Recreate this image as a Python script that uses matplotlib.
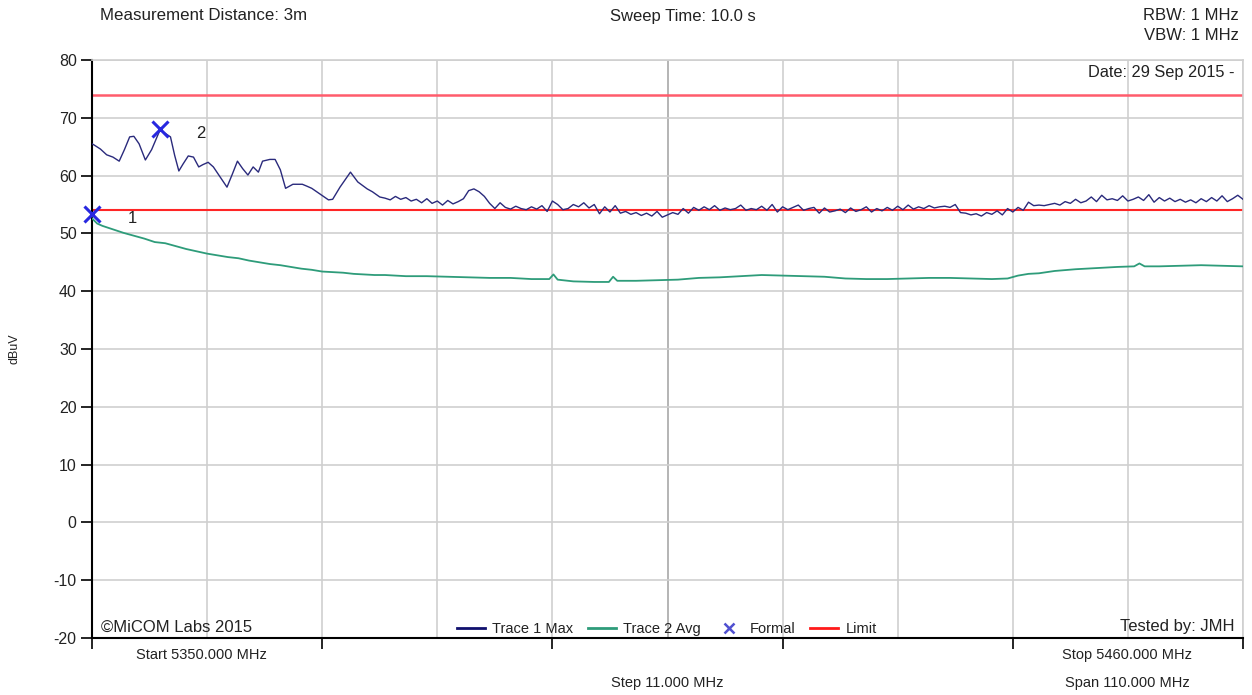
import numpy as np
import matplotlib
matplotlib.use("Agg")
import matplotlib.pyplot as plt
from matplotlib.lines import Line2D

plt.rcParams['font.family'] = ['Liberation Sans', 'DejaVu Sans']

# ---------------- data ----------------
f_start, f_stop, f_step = 5350.0, 5460.0, 11.0
y_ticks = [-20, -10, 0, 10, 20, 30, 40, 50, 60, 70, 80]

# Trace 1 (max) - first part, read at irregular frequencies
trace1_freq_a = [5350.0, 5350.2, 5350.8, 5351.4, 5352.0, 5352.6, 5353.1, 5353.6, 5354.0, 5354.5,
                 5355.1, 5355.7, 5356.5, 5357.5, 5357.9, 5358.3, 5358.7, 5359.2, 5359.7, 5360.0,
                 5360.2, 5360.6, 5361.1, 5361.6, 5362.2, 5362.9, 5363.4, 5363.9, 5364.4, 5364.9,
                 5365.4, 5365.9, 5366.3, 5367.0, 5367.5, 5368.0, 5368.5, 5369.2, 5370.1, 5370.5,
                 5371.0, 5371.8, 5372.6, 5373.0, 5373.7, 5374.7, 5375.4, 5376.3, 5376.8, 5377.5]
trace1_val_a = [65.5, 65.3, 64.6, 63.6, 63.2, 62.5, 64.5, 66.7, 66.8, 65.5,
                62.7, 64.5, 67.9, 66.7, 63.5, 60.8, 62.0, 63.4, 63.2, 62.2,
                61.5, 61.9, 62.3, 61.5, 59.9, 58.0, 60.2, 62.5, 61.2, 60.1,
                61.5, 60.6, 62.5, 62.8, 62.8, 61.0, 57.8, 58.5, 58.5, 58.2,
                57.8, 56.8, 55.8, 55.9, 58.0, 60.6, 58.9, 57.7, 57.2, 56.3]

# Trace 1 (max) - remaining sweep, 0.5 MHz points from 5378.0 to 5460.0
trace1_val_b = [56.1, 55.8, 56.4, 55.9, 56.2, 55.6, 55.9, 55.3, 56.0, 55.2,
                55.6, 54.9, 55.7, 55.1, 55.5, 56.0, 57.4, 57.7, 57.2, 56.4,
                55.2, 54.3, 55.3, 54.5, 54.2, 54.7, 54.3, 54.1, 54.6, 54.2,
                54.8, 53.8, 55.6, 55.0, 54.1, 54.3, 55.0, 54.6, 55.3, 54.4,
                55.0, 53.4, 54.6, 53.7, 54.8, 53.5, 53.8, 53.3, 53.6, 53.1,
                53.5, 53.0, 53.8, 52.8, 53.2, 53.6, 53.3, 54.3, 53.5, 54.5,
                54.0, 54.6, 54.1, 54.8, 54.0, 54.4, 54.1, 54.3, 54.9, 54.0,
                54.3, 54.1, 54.7, 54.0, 55.0, 53.7, 54.6, 54.1, 54.5, 54.9,
                54.0, 54.3, 54.5, 53.5, 54.4, 53.7, 53.9, 54.2, 53.6, 54.4,
                53.8, 54.1, 54.6, 53.7, 54.3, 53.9, 54.5, 54.0, 54.7, 54.1,
                54.9, 54.2, 54.6, 54.3, 54.8, 54.4, 54.6, 54.7, 54.5, 55.0,
                53.6, 53.5, 53.2, 53.4, 53.0, 53.6, 53.3, 53.9, 53.2, 54.3,
                53.7, 54.5, 54.0, 55.4, 54.8, 54.9, 54.8, 55.0, 55.2, 54.9,
                55.5, 55.2, 55.9, 55.3, 55.6, 56.3, 55.5, 56.6, 55.8, 56.0,
                55.7, 56.5, 55.6, 55.9, 56.3, 55.7, 56.7, 55.4, 56.2, 55.6,
                56.1, 55.5, 55.9, 55.4, 55.8, 55.3, 56.0, 55.5, 56.2, 55.6,
                56.5, 55.5, 56.0, 56.6, 55.9]
trace1_freq_b = np.arange(5378.0, 5460.01, 0.5)

# Trace 2 (average)
trace2_freq = [5350.0, 5350.5, 5351.0, 5352.0, 5353.0, 5354.0, 5355.0, 5356.0, 5357.0, 5358.0,
               5359.0, 5360.0, 5361.0, 5362.0, 5363.0, 5364.0, 5365.0, 5366.0, 5367.0, 5368.0,
               5369.0, 5370.0, 5371.0, 5372.0, 5373.0, 5374.0, 5375.0, 5376.0, 5377.0, 5378.0,
               5380.0, 5382.0, 5384.0, 5386.0, 5388.0, 5390.0, 5392.0, 5393.7, 5394.1, 5394.5,
               5396.0, 5398.0, 5399.4, 5399.8, 5400.2, 5402.0, 5404.0, 5406.0, 5408.0, 5410.0,
               5412.0, 5414.0, 5416.0, 5418.0, 5420.0, 5422.0, 5424.0, 5426.0, 5428.0, 5430.0,
               5432.0, 5434.0, 5436.0, 5437.5, 5438.5, 5439.5, 5440.5, 5442.0, 5444.0, 5446.0,
               5448.0, 5449.6, 5450.1, 5450.6, 5452.0, 5454.0, 5456.0, 5458.0, 5460.0]
trace2_val = [52.6, 51.7, 51.3, 50.7, 50.1, 49.6, 49.1, 48.5, 48.3, 47.8,
              47.3, 46.9, 46.5, 46.2, 45.9, 45.7, 45.3, 45.0, 44.7, 44.5,
              44.2, 43.9, 43.7, 43.4, 43.3, 43.2, 43.0, 42.9, 42.8, 42.8,
              42.6, 42.6, 42.5, 42.4, 42.3, 42.3, 42.1, 42.1, 42.9, 42.0,
              41.7, 41.6, 41.6, 42.5, 41.8, 41.8, 41.9, 42.0, 42.3, 42.4,
              42.6, 42.8, 42.7, 42.6, 42.5, 42.2, 42.1, 42.1, 42.2, 42.3,
              42.3, 42.2, 42.1, 42.2, 42.7, 43.0, 43.1, 43.5, 43.8, 44.0,
              44.2, 44.3, 44.8, 44.3, 44.3, 44.4, 44.5, 44.4, 44.3]

limit_upper = 74.0
limit_lower = 54.0

marker_freqs = [5350.0, 5356.5]
marker_vals = [53.3, 68.0]
marker_labels = ['1', '2']

# ---------------- figure ----------------
W, H = 1252, 695
fig = plt.figure(figsize=(W / 100, H / 100), dpi=100)
ax = fig.add_axes([92 / W, 1 - 638 / H, (1243 - 92) / W, (638 - 60) / H])

c_t1 = '#2a2a7c'
c_t2 = '#2e9c7a'
c_mark = '#2828e0'

ax.set_xlim(f_start, f_stop)
ax.set_ylim(-20, 80)
ax.set_yticks(y_ticks)
ax.set_yticklabels([str(v) for v in y_ticks], fontsize=11.5, color='#222222')
grid_x = np.arange(f_start, f_stop + 0.01, f_step)
ax.set_xticks(grid_x[::2])
ax.set_xticklabels([])
ax.tick_params(axis='both', direction='out', length=8, width=1.2, color='black')
ax.tick_params(axis='y', pad=3)

for gx in grid_x[1:]:
    col = '#a8a8a8' if abs(gx - 5405.0) < 0.1 else '#cfcfcf'
    ax.axvline(gx, color=col, lw=1.2, zorder=0)
for gy in y_ticks[1:]:
    ax.axhline(gy, color='#cfcfcf', lw=1.2, zorder=0)

for s in ['top', 'right']:
    ax.spines[s].set_color('#cfcfcf')
    ax.spines[s].set_linewidth(1.2)
for s in ['left', 'bottom']:
    ax.spines[s].set_color('black')
    ax.spines[s].set_linewidth(1.5)

ax.axhline(limit_upper, color='#ff5c6c', lw=1.8, zorder=2)
ax.axhline(limit_lower, color='#ff2626', lw=1.5, zorder=2)

ax.plot(trace1_freq_a + list(trace1_freq_b), trace1_val_a + trace1_val_b,
        color=c_t1, lw=1.0, zorder=3)
ax.plot(trace2_freq, trace2_val, color=c_t2, lw=1.3, zorder=3)

ax.plot(marker_freqs, marker_vals, 'x', color=c_mark, ms=11, mew=2.2, zorder=5, clip_on=False)
for mf, mv, ml in zip(marker_freqs, marker_vals, marker_labels):
    ax.annotate(ml, (mf, mv), xytext=(26, -3), textcoords='offset points',
                fontsize=12, color='#222222', va='center', ha='left')

ax.set_ylabel('dBuV', fontsize=9, color='#222222')
ax.yaxis.set_label_coords(-0.062, 0.5)

# legend
handles = [Line2D([], [], color='#10106e', lw=2),
           Line2D([], [], color=c_t2, lw=2),
           Line2D([], [], color='#5050d0', marker='x', ls='none', ms=7, mew=1.8),
           Line2D([], [], color='#ff1a1a', lw=2)]
labels = ['Trace 1 Max', 'Trace 2 Avg', 'Formal', 'Limit']
ax.legend(handles, labels, loc='lower center', bbox_to_anchor=(0.4995, -0.019), ncol=4,
          frameon=False, fontsize=10.5, handlelength=1.9, handletextpad=0.5,
          columnspacing=1.0, labelcolor='#222222')

# text annotations
tc = '#222222'
fig.text(100 / W, 1 - 16 / H, 'Measurement Distance: 3m', fontsize=12.2, color=tc, va='center', ha='left')
fig.text(683 / W, 1 - 16 / H, 'Sweep Time: 10.0 s', fontsize=12, color=tc, va='center', ha='center')
fig.text(1239 / W, 1 - 16 / H, 'RBW: 1 MHz', fontsize=12, color=tc, va='center', ha='right')
fig.text(1239 / W, 1 - 35 / H, 'VBW: 1 MHz', fontsize=12, color=tc, va='center', ha='right')
fig.text(1234 / W, 1 - 72 / H, 'Date: 29 Sep 2015 -', fontsize=11.8, color=tc, va='center', ha='right')
fig.text(101 / W, 1 - 627 / H, '\u00a9MiCOM Labs 2015', fontsize=12, color=tc, va='center', ha='left')
fig.text(1235 / W, 1 - 627 / H, 'Tested by: JMH', fontsize=12, color=tc, va='center', ha='right')
fig.text(201 / W, 1 - 655 / H, 'Start 5350.000 MHz', fontsize=10.5, color=tc, va='center', ha='center')
fig.text(1127 / W, 1 - 655 / H, 'Stop 5460.000 MHz', fontsize=10.5, color=tc, va='center', ha='center')
fig.text(667 / W, 1 - 683 / H, 'Step 11.000 MHz', fontsize=10.5, color=tc, va='center', ha='center')
fig.text(1127 / W, 1 - 683 / H, 'Span 110.000 MHz', fontsize=10.5, color=tc, va='center', ha='center')

fig.savefig('out.png', dpi=100)
